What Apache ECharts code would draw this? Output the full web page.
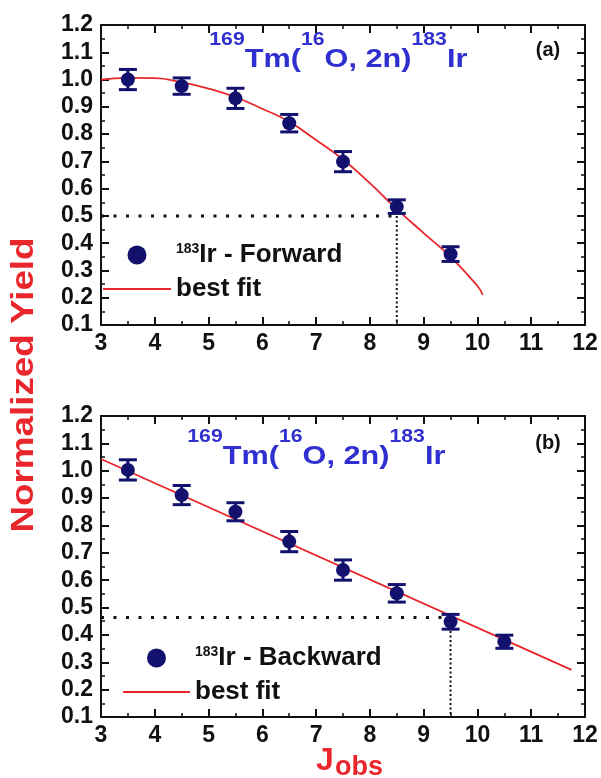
<!DOCTYPE html>
<html>
<head>
<meta charset="utf-8">
<script src="https://cdn.jsdelivr.net/npm/echarts@6/dist/echarts.min.js"></script>
<style>
  html, body { margin: 0; padding: 0; background: #fff; }
  #chart { width: 601px; height: 778px; }
</style>
</head>
<body>
<div id="chart"></div>
<script>
// axis ranges (J_obs and normalized yield)
const jMin = 3, jMax = 12, jStep = 1
const yMin = 0.1, yMax = 1.2, yStep = 0.1

// (a) forward
const fwdJ = [3.5, 4.5, 5.5, 6.5, 7.5, 8.5, 9.5]
const fwdYield = [1.0, 0.976, 0.931, 0.84, 0.699, 0.534, 0.36]
const fwdErr = [0.037, 0.03, 0.037, 0.032, 0.037, 0.025, 0.027]
const fwdFitJ = [3, 3.5, 4, 4.5, 5, 5.5, 6, 6.5, 7, 7.5, 8, 8.5, 9, 9.5, 10, 10.1]
const fwdFitY = [1.0, 1.006, 1.005, 0.99, 0.967, 0.935, 0.893, 0.845, 0.778, 0.707, 0.62, 0.525, 0.437, 0.35, 0.243, 0.21]
const fwdHalf = [8.5, 0.5]

// (b) backward
const bwdJ = [3.5, 4.5, 5.5, 6.5, 7.5, 8.5, 9.5, 10.5]
const bwdYield = [1.003, 0.911, 0.85, 0.741, 0.637, 0.552, 0.448, 0.375]
const bwdErr = [0.037, 0.035, 0.033, 0.037, 0.037, 0.032, 0.027, 0.024]
const bwdFitJ = [3, 11.75]
const bwdFitY = [1.043, 0.272]
const bwdHalf = [9.5, 0.464]

const ink = '#111'
const navy = '#12126e'
const red = '#e8262b'
const blue = '#3030d0'
const font = '"Liberation Sans", Arial, sans-serif'

const legendText = {
  fwd: '{s|183}{m|Ir - Forward}',
  fitA: '{m|best fit}',
  bwd: '{s|183}{m|Ir - Backward}',
  fitB: '{m|best fit}'
}

function xAx (grid, pos, labels) {
  return {
    type: 'value', gridIndex: grid, position: pos,
    min: jMin, max: jMax, interval: jStep,
    axisLine: { show: true, onZero: false, lineStyle: { color: ink, width: 2 } },
    axisTick: { show: true, inside: true, length: 8, lineStyle: { color: ink, width: 2 } },
    minorTick: { show: true, splitNumber: 2, length: 4, lineStyle: { color: ink, width: 1.5 } },
    splitLine: { show: false },
    axisLabel: { show: labels, margin: 7, color: ink, fontSize: 23, fontWeight: 'bold', fontFamily: font }
  }
}

function yAx (grid, pos, labels) {
  return {
    type: 'value', gridIndex: grid, position: pos,
    min: yMin, max: yMax, interval: yStep,
    axisLine: { show: true, onZero: false, lineStyle: { color: ink, width: 2 } },
    axisTick: { show: true, inside: true, length: 8, lineStyle: { color: ink, width: 2 } },
    minorTick: { show: true, splitNumber: 2, length: 4, lineStyle: { color: ink, width: 1.5 } },
    splitLine: { show: false },
    axisLabel: {
      show: labels, margin: 8, color: ink, fontSize: 23, fontWeight: 'bold', fontFamily: font,
      formatter: v => v.toFixed(1)
    }
  }
}

function pairs (xs, ys) {
  return xs.map((x, i) => [x, ys[i]])
}

function errorBars (xs, ys, es, axis) {
  return {
    type: 'custom', xAxisIndex: axis, yAxisIndex: axis, z: 4, silent: true,
    data: xs.map((x, i) => [x, ys[i] - es[i], ys[i] + es[i]]),
    encode: { x: 0, y: [1, 2] },
    renderItem: (params, api) => {
      const lo = api.coord([api.value(0), api.value(1)])
      const hi = api.coord([api.value(0), api.value(2)])
      const w = 9
      const st = { stroke: navy, lineWidth: 3 }
      return {
        type: 'group',
        children: [
          { type: 'line', shape: { x1: lo[0], y1: lo[1], x2: hi[0], y2: hi[1] }, style: st },
          { type: 'line', shape: { x1: lo[0] - w, y1: lo[1], x2: lo[0] + w, y2: lo[1] }, style: st },
          { type: 'line', shape: { x1: hi[0] - w, y1: hi[1], x2: hi[0] + w, y2: hi[1] }, style: st }
        ]
      }
    }
  }
}

function guides (half, axis) {
  return [{
    type: 'line', xAxisIndex: axis, yAxisIndex: axis, symbol: 'none', silent: true,
    data: [[jMin, half[1]], [half[0], half[1]]],
    lineStyle: { color: ink, width: 3, type: [3, 9.5] }
  }, {
    type: 'line', xAxisIndex: axis, yAxisIndex: axis, symbol: 'none', silent: true,
    data: [[half[0], half[1]], [half[0], yMin]],
    lineStyle: { color: ink, width: 2, type: [2, 2.5] }
  }]
}

function panel (name, fitName, xs, ys, es, fitX, fitY, half, axis) {
  return [
    ...guides(half, axis),
    {
      name: fitName, type: 'line', xAxisIndex: axis, yAxisIndex: axis,
      symbol: 'none', smooth: true, silent: true, z: 3,
      data: pairs(fitX, fitY),
      lineStyle: { color: red, width: 1.8 }, itemStyle: { color: red }
    },
    {
      name: name, type: 'scatter', xAxisIndex: axis, yAxisIndex: axis,
      symbol: 'circle', symbolSize: 14, z: 3, silent: true,
      data: pairs(xs, ys),
      itemStyle: { color: navy, opacity: 1 }
    },
    errorBars(xs, ys, es, axis)
  ]
}

function legend (left, top, width, names) {
  return {
    left: left, top: top, orient: 'vertical', selectedMode: false, padding: 0,
    itemWidth: width, itemHeight: 19, itemGap: 8,
    data: [names[0], { name: names[1], itemStyle: { opacity: 0 } }],
    formatter: n => legendText[n],
    textStyle: {
      color: ink,
      rich: {
        s: { fontSize: 14, fontWeight: 'bold', fontFamily: font, color: ink, verticalAlign: 'top', lineHeight: 14 },
        m: { fontSize: 26, fontWeight: 'bold', fontFamily: font, color: ink, verticalAlign: 'bottom', lineHeight: 26 }
      }
    }
  }
}

// superscripted reaction label; the g token only widens the line box
const richTitle = {
  g: { fontSize: 2, lineHeight: 42 },
  s: { fontSize: 18, fontWeight: 'bold', fontFamily: font, fill: blue, verticalAlign: 'top', lineHeight: 18 },
  m: { fontSize: 26, fontWeight: 'bold', fontFamily: font, fill: blue, verticalAlign: 'bottom', lineHeight: 26 }
}
const reaction = '{g| }{s|169}{m|Tm(}{s|16}{m|O, 2n)}{s|183}{m|Ir}'

function label (x, y, text, size, color, extra) {
  return Object.assign({
    type: 'text', x: x, y: y, silent: true,
    style: {
      text: text, fontSize: size, fontWeight: 'bold', fontFamily: font, fill: color,
      align: 'center', verticalAlign: 'middle'
    }
  }, extra || {})
}

function reactionLabel (x, top) {
  return {
    type: 'text', x: x, y: top, scaleX: 1.18, silent: true,
    style: { text: reaction, rich: richTitle, align: 'center', verticalAlign: 'top' }
  }
}

const chart = echarts.init(document.getElementById('chart'))
chart.setOption({
  animation: false,
  backgroundColor: '#fff',
  grid: [
    { left: 101, right: 16, top: 25, height: 300 },
    { left: 101, right: 16, top: 416, height: 301 }
  ],
  xAxis: [xAx(0, 'bottom', true), xAx(1, 'bottom', true), xAx(0, 'top', false), xAx(1, 'top', false)],
  yAxis: [yAx(0, 'left', true), yAx(1, 'left', true), yAx(0, 'right', false), yAx(1, 'right', false)],
  legend: [
    legend(102, 242, 68, ['fwd', 'fitA']),
    legend(122, 645, 67, ['bwd', 'fitB'])
  ],
  graphic: [
    reactionLabel(338, 31),
    reactionLabel(316, 428),
    label(548, 50, '(a)', 20, ink),
    label(548, 443, '(b)', 20, ink),
    label(24, 385, 'Normalized Yield', 32, red, { rotation: Math.PI / 2, scaleX: 1.15 }),
    label(325, 761, 'J', 32, red),
    label(335, 768, 'obs', 27, red, { style: { text: 'obs', fontSize: 27, fontWeight: 'bold', fontFamily: font, fill: red, align: 'left', verticalAlign: 'middle' } })
  ],
  series: [
    ...panel('fwd', 'fitA', fwdJ, fwdYield, fwdErr, fwdFitJ, fwdFitY, fwdHalf, 0),
    ...panel('bwd', 'fitB', bwdJ, bwdYield, bwdErr, bwdFitJ, bwdFitY, bwdHalf, 1)
  ]
})
</script>
</body>
</html>
